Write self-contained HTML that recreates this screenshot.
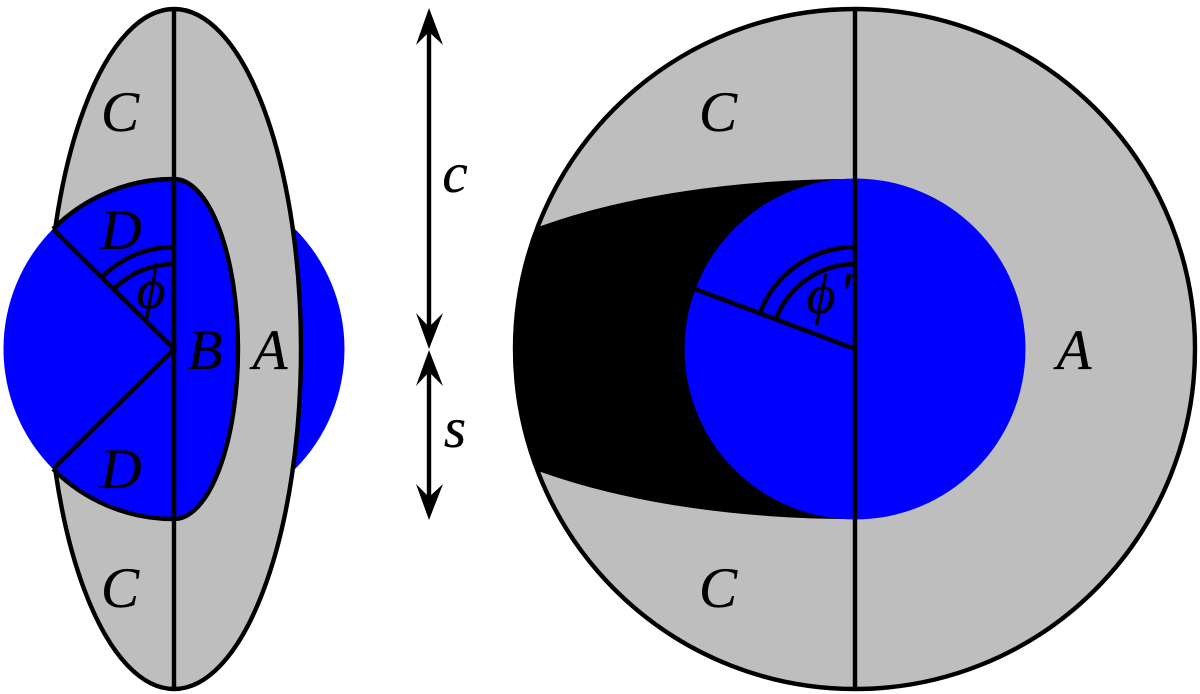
<!DOCTYPE html>
<html><head><meta charset="utf-8"><style>html,body{margin:0;padding:0;background:#fff}svg{display:block}text{font-family:"Liberation Serif","Times New Roman",serif;font-style:italic;font-size:57px;fill:#000;stroke:#000;stroke-width:.3;text-anchor:middle}</style></head><body>
<svg width="1200" height="694" viewBox="0 0 1200 694" xmlns="http://www.w3.org/2000/svg">
<g fill="none" stroke="#000" stroke-width="4.4">
<circle cx="174" cy="349" r="170.5" fill="#00f" stroke="none"/>
<ellipse cx="174" cy="349" rx="127" ry="340" fill="#bebebe"/>
<path d="M174 179A170 170 0 0 0 174 519Z" fill="#00f" stroke="none"/>
<path d="M174 179A64 170 0 0 1 174 519Z" fill="#00f"/>
<path d="M53 229A170 170 0 0 1 174 179M53 469A170 170 0 0 0 174 519M53 229L174 349L53 469M174 9V689"/>
<path d="M174 247A102 102 0 0 0 102 277M174 264A85 85 0 0 0 114 289"/>
<circle cx="855" cy="349" r="340" fill="#bebebe" stroke="none"/>
<path d="M538 227L541 226A451 170 0 0 1 855 179V519A451 170 0 0 1 541 472L538 471A340 340 0 0 1 538 227Z" fill="#000" stroke="none"/>
<circle cx="855" cy="349" r="340"/>
<circle cx="855" cy="349" r="170.5" fill="#00f" stroke="none"/>
<path d="M855 9V689M695 289L855 349"/>
<path d="M855 247A102 102 0 0 0 760 313M855 264A85 85 0 0 0 776 319"/>
<path d="M429 20V340M429 358V510"/>
</g>
<path d="M429 8L443 45L429 32L416 45ZM429 349L443 313L429 327L416 313ZM429 350L443 386L429 372L416 386ZM429 520L443 484L429 497L416 484Z" fill="#000"/>
<text x="120" y="131">C</text><text x="120" y="607">C</text>
<text x="121" y="249">D</text><text x="121" y="488">D</text>
<text x="205" y="369">B</text><text x="270" y="369">A</text>
<text x="151" y="308" style="font-size:56px">ϕ</text>
<text x="455" y="192">c</text><text x="455" y="447">s</text>
<text x="718" y="131">C</text><text x="718" y="607">C</text>
<text x="1074" y="369">A</text>
<text x="821" y="313" style="font-size:56px">ϕ</text><text x="845" y="314" style="font-size:60px">′</text>
</svg></body></html>
